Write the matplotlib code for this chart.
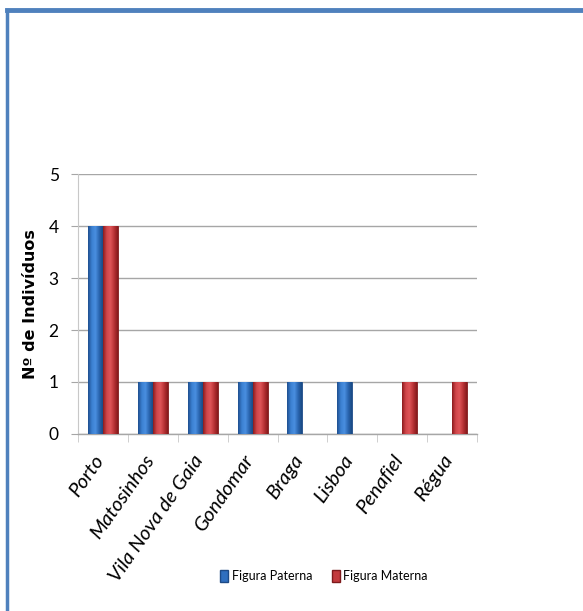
import numpy as np
import matplotlib.pyplot as plt
import matplotlib.transforms as mtransforms
from matplotlib.lines import Line2D
from matplotlib.patches import Patch
from matplotlib.colors import LinearSegmentedColormap

# Dados: número de indivíduos por localidade
locais = ["Porto", "Matosinhos", "Vila Nova de Gaia", "Gondomar",
          "Braga", "Lisboa", "Penafiel", "Régua"]
paterna = [4, 1, 1, 1, 1, 1, 0, 0]
materna = [4, 1, 1, 1, 0, 0, 1, 1]
series = ["Figura Paterna", "Figura Materna"]

narrow = ["Lato", "DejaVu Sans"]

fig = plt.figure(figsize=(5.83, 6.11), dpi=100)
ax = fig.add_axes([0.134, 0.2897, 0.684, 0.4255])

x = np.arange(len(locais))
w = 0.30

# gradientes horizontais para dar volume às barras
grad_azul = LinearSegmentedColormap.from_list(
    "azul", ["#1f4f8f", "#3a7fd0", "#4a8fe0", "#2a66b0", "#1a4a85"])
grad_verm = LinearSegmentedColormap.from_list(
    "verm", ["#8c1c1e", "#d0454a", "#de5558", "#b83336", "#861a1c"])

barras_p = ax.bar(x - w / 2, paterna, w, color="#2f6fbf",
                  edgecolor="#1d4a86", linewidth=0.6, zorder=3)
barras_m = ax.bar(x + w / 2, materna, w, color="#c23a3d",
                  edgecolor="#7e1a1c", linewidth=0.6, zorder=3)

grad = np.linspace(0, 1, 64).reshape(1, -1)
for barras, cmap in [(barras_p, grad_azul), (barras_m, grad_verm)]:
    for b in barras:
        if b.get_height() <= 0:
            continue
        x0, y0 = b.get_x(), b.get_y()
        im = ax.imshow(grad, cmap=cmap, aspect="auto", zorder=3.5,
                       extent=[x0, x0 + b.get_width(), y0, y0 + b.get_height()])
        im.set_clip_path(b)

ax.set_xlim(-0.5, len(locais) - 0.5)
ax.set_ylim(0, 5)

# grelha e eixos
ax.yaxis.grid(True, color="#a6a6a6", linewidth=1.0, zorder=0)
ax.set_axisbelow(True)
for s in ["top", "right"]:
    ax.spines[s].set_visible(False)
ax.spines["left"].set_color("#c8c8c8")
ax.spines["bottom"].set_color("#a6a6a6")
ax.spines["bottom"].set_linewidth(1.0)

ax.set_yticks(range(0, 6))
ax.set_yticklabels([str(v) for v in range(0, 6)], family=narrow, fontsize=12.5)
ax.tick_params(axis="y", length=5, color="#a6a6a6", pad=9)

ax.set_xticks(x)
ax.set_xticklabels(locais, rotation=55, ha="right", va="top",
                   rotation_mode="anchor", family=narrow, style="italic",
                   fontsize=14.5)
ax.tick_params(axis="x", length=0, pad=13)
desloc = mtransforms.ScaledTranslation(-7 / 72, 0, fig.dpi_scale_trans)
for lbl in ax.get_xticklabels():
    lbl.set_transform(lbl.get_transform() + desloc)
ax.set_xticks(np.arange(-0.5, len(locais)), minor=True)
ax.tick_params(axis="x", which="minor", length=6, color="#c8c8c8")

ax.set_ylabel("Nº de Indivíduos", fontsize=11.5, fontweight="bold",
              family="DejaVu Sans")
ax.yaxis.set_label_coords(-0.10, 0.5)

# legenda
handles = [Patch(facecolor="#2f6fbf", edgecolor="#1d4a86"),
           Patch(facecolor="#c23a3d", edgecolor="#7e1a1c")]
fig.legend(handles, series, loc="center", bbox_to_anchor=(0.556, 0.057),
           ncol=2, frameon=False, prop={"family": narrow, "size": 9},
           handlelength=0.6, handleheight=1.1, handletextpad=0.3,
           columnspacing=1.6)

# moldura do gráfico
cor_moldura = "#4f81bd"
fig.add_artist(Line2D([0.012, 0.012], [0.0, 0.984], transform=fig.transFigure,
                      color=cor_moldura, linewidth=2.5))
fig.add_artist(Line2D([0.012, 1.0], [0.984, 0.984], transform=fig.transFigure,
                      color=cor_moldura, linewidth=3.5))

fig.savefig("out.png", dpi=100)
